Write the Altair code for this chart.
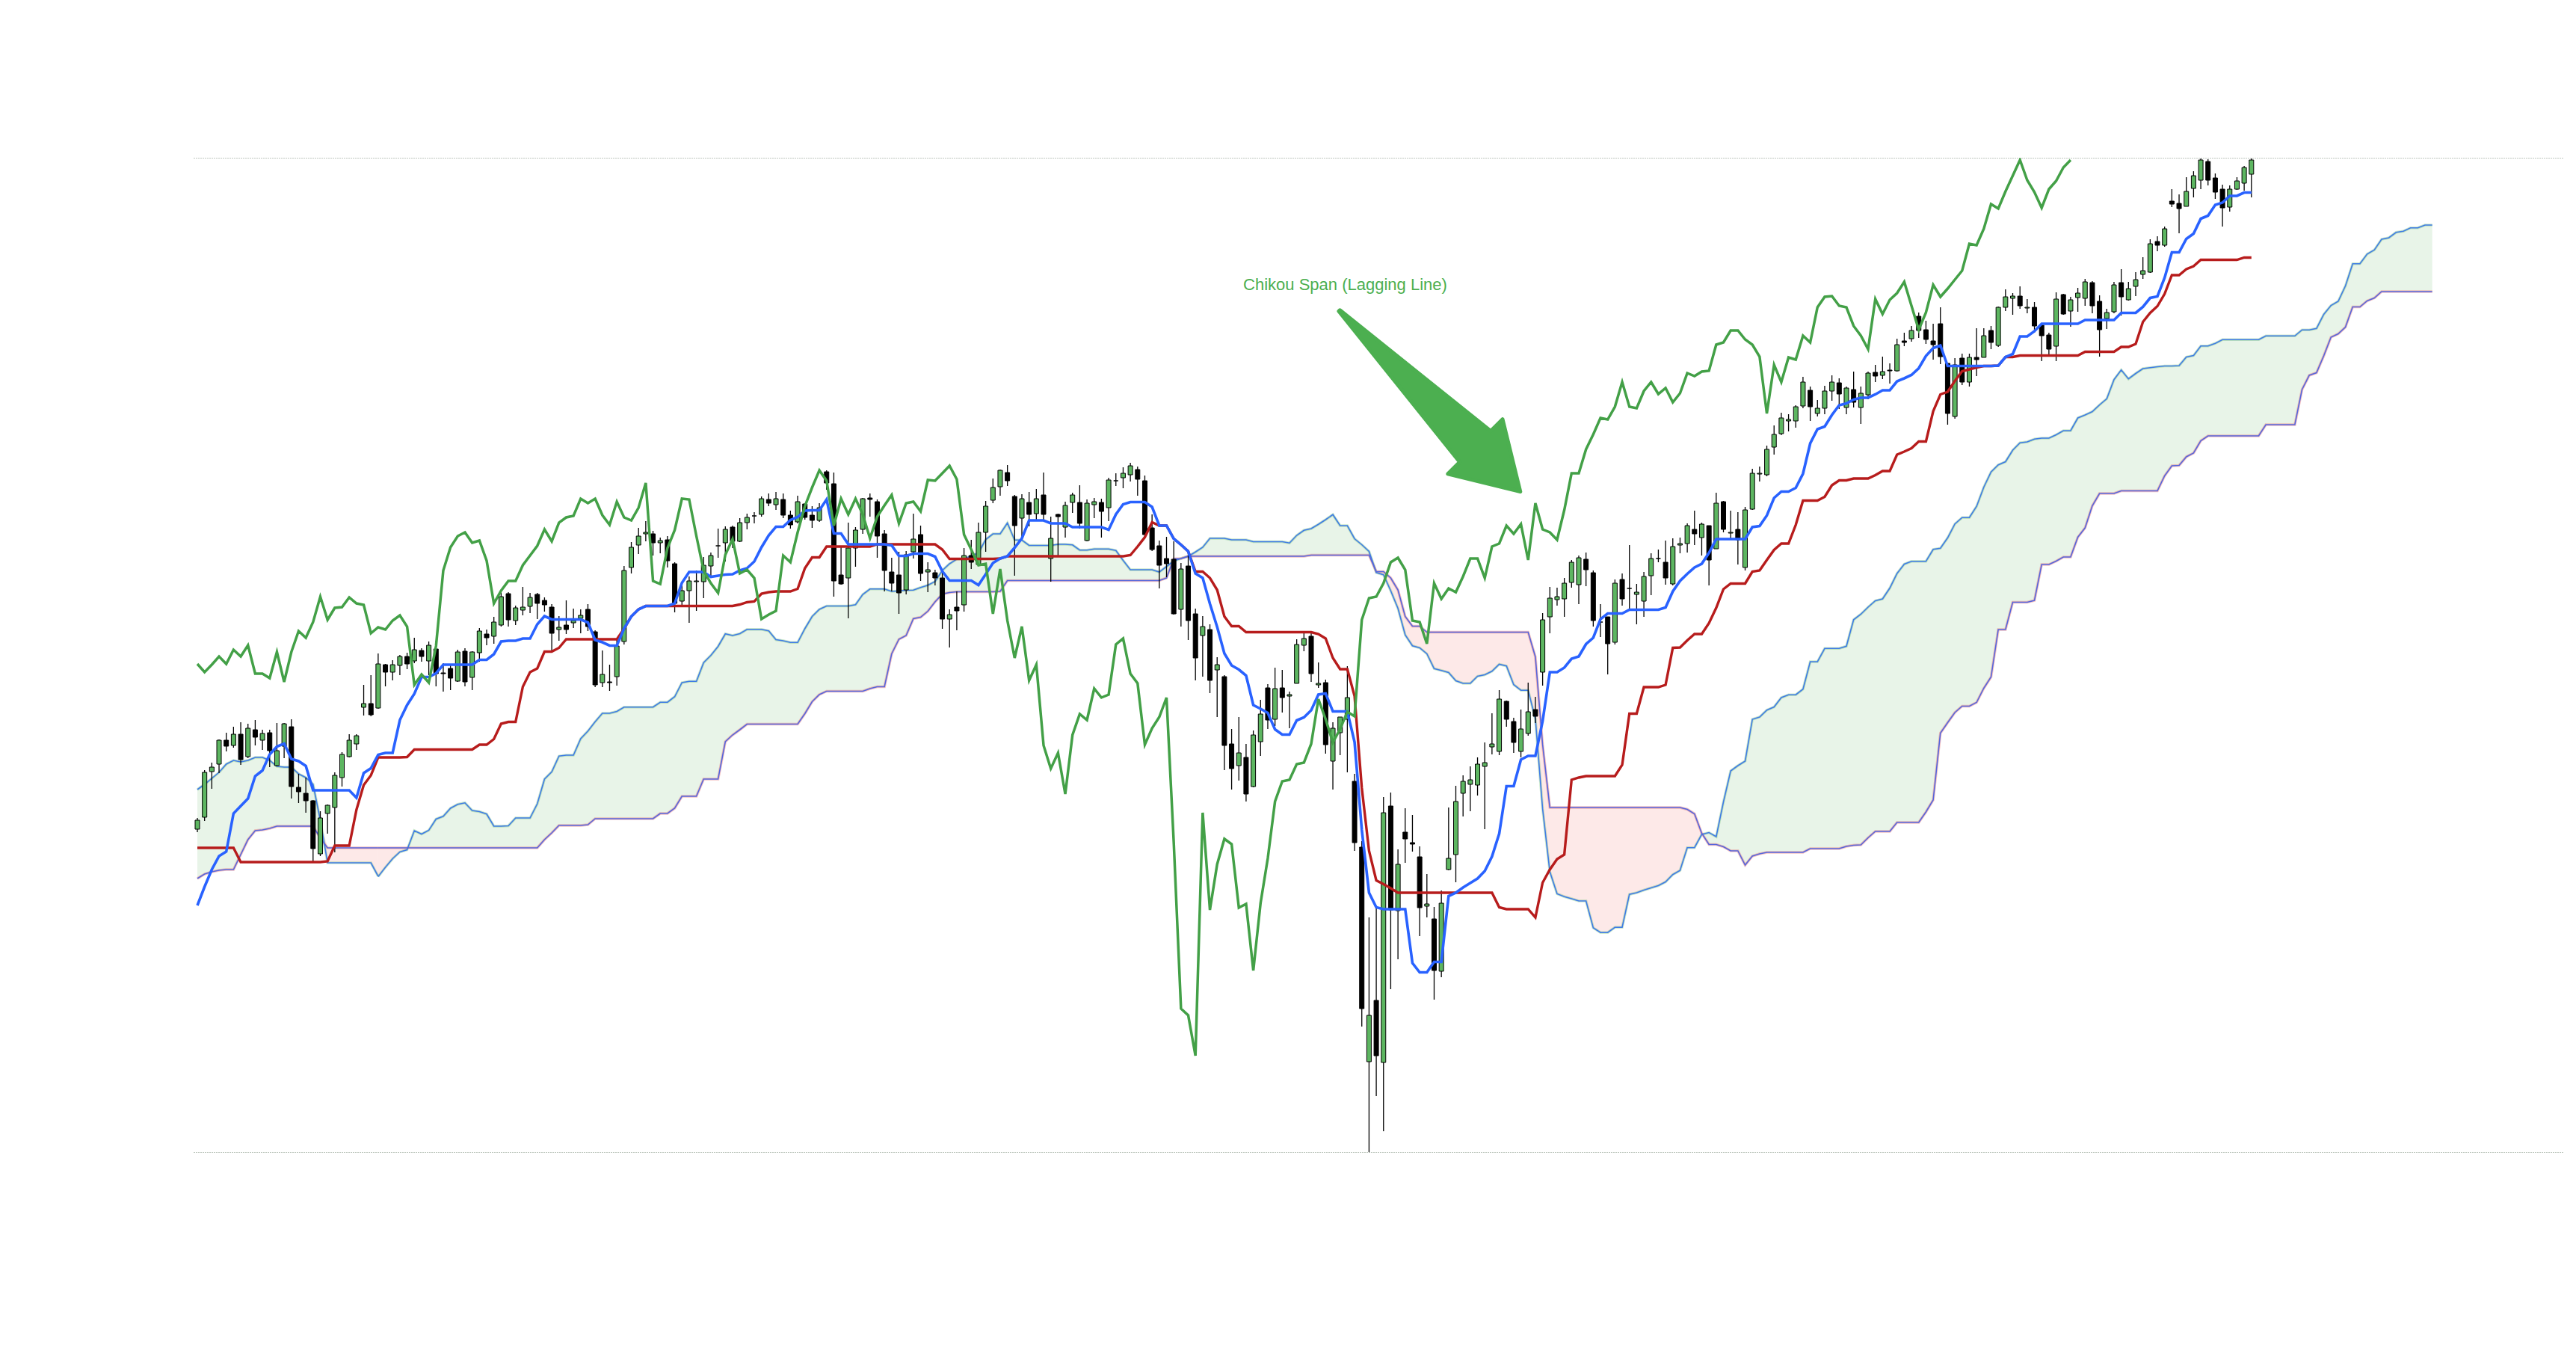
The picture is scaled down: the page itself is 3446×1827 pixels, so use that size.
import altair as alt
import pandas as pd

# ---- candles (price units) ----
OPEN = [432,448,509,519,551,544,559,529,565,551,561,517,543,569,488,480,470,399,453,461,
        501,529,546,595,600,594,652,642,651,663,657,671,657,673,641,647,630,670,635,668,
        693,690,705,747,711,725,730,746,738,729,699,705,708,714,726,696,628,629,636,683,
        782,812,827,827,815,819,787,737,751,763,763,784,811,815,836,817,842,851,853,873,
        866,873,852,843,867,852,845,910,894,772,768,808,833,875,870,827,776,772,752,803,
        826,776,775,768,713,729,732,798,786,829,872,890,909,877,848,869,854,879,794,853,
        836,869,869,818,866,869,862,898,902,906,913,898,835,811,794,793,726,784,720,691,
        699,645,636,546,517,528,489,549,621,579,621,610,627,678,690,625,628,523,561,579,
        496,408,121,203,120,463,323,428,414,395,329,312,242,378,398,480,492,491,516,542,
        536,603,576,536,560,592,642,716,739,740,762,759,793,775,709,716,682,766,754,746,
        737,771,794,789,760,812,814,833,822,838,807,870,828,833,782,860,907,906,943,961,
        978,978,998,1019,988,995,1018,1029,996,1020,996,1013,1043,1039,1046,1045,1085,1088,1118,1100,
        1085,1108,1055,984,1062,1030,1063,1063,1099,1079,1130,1142,1145,1129,1130,1106,1093,1078,1147,1125,
        1143,1142,1163,1138,1115,1124,1163,1140,1158,1174,1177,1218,1213,1272,1269,1265,1289,1300,1325,1303,
        1288,1264,1288,1296,1308]
HIGH = [447,511,521,552,561,569,575,573,578,565,565,574,574,579,506,501,471,456,465,508,
        535,559,559,625,638,667,653,658,665,668,688,674,683,684,654,651,672,674,670,701,
        699,716,750,749,731,756,748,748,742,733,717,738,727,726,733,698,671,652,685,784,
        816,835,844,831,822,824,789,761,770,778,796,802,834,837,838,848,854,856,877,881,
        883,881,858,878,868,864,868,912,909,810,842,836,875,881,873,832,795,803,804,854,
        838,789,779,778,726,750,808,819,842,871,901,913,919,879,880,883,887,909,850,854,
        870,882,892,873,875,874,902,908,916,922,917,905,853,818,823,817,788,806,727,717,
        706,662,638,566,582,546,564,605,626,648,645,616,686,694,694,655,632,575,582,650,
        506,416,314,328,475,481,405,460,451,409,372,328,350,461,490,504,516,528,548,587,
        618,604,581,592,628,609,721,756,755,768,792,798,802,778,733,716,766,774,812,760,
        776,801,806,818,821,822,841,858,842,838,882,871,858,856,863,914,917,945,972,989,
        987,999,1037,1024,1006,1025,1039,1035,1024,1044,1024,1044,1053,1064,1055,1088,1096,1105,1123,1112,
        1108,1130,1055,1062,1068,1068,1102,1102,1105,1131,1154,1149,1158,1141,1137,1109,1096,1150,1148,1144,
        1156,1168,1165,1146,1128,1164,1181,1164,1177,1197,1221,1225,1238,1288,1281,1304,1312,1329,1328,1309,
        1294,1293,1304,1319,1329]
LOW = [428,443,486,507,536,541,518,527,544,538,515,516,527,473,467,454,389,396,426,401,
       489,528,538,584,583,593,623,631,638,646,654,656,638,623,616,618,629,623,618,656,
       678,680,703,703,705,718,721,713,723,669,684,693,701,694,697,622,622,617,624,679,
       774,800,817,798,801,782,722,729,708,724,741,769,795,790,808,816,833,841,850,864,
       859,848,834,841,846,835,843,886,743,759,714,783,827,850,795,750,750,720,746,794,
       764,749,758,700,675,698,723,780,785,803,868,878,891,771,820,837,846,846,763,798,
       822,855,834,817,848,822,844,891,888,897,878,824,804,754,769,719,703,685,631,636,
       614,582,511,485,497,469,488,530,566,570,588,567,627,670,629,621,533,485,531,508,
       403,168,0,75,28,218,258,387,402,289,314,204,234,377,361,449,456,477,432,532,
       531,569,534,528,557,574,624,694,731,716,755,733,757,703,689,639,679,731,727,706,
       716,745,789,759,758,801,802,812,798,758,807,829,819,786,778,859,897,904,933,959,
       964,969,995,978,984,987,1005,994,987,996,974,1007,1030,1034,1028,1044,1078,1084,1089,1081,
       1060,1054,973,981,1026,1024,1038,1063,1074,1077,1125,1120,1128,1122,1096,1058,1064,1058,1120,1104,
       1124,1132,1122,1064,1101,1122,1119,1139,1145,1168,1176,1205,1211,1264,1229,1265,1277,1288,1293,1275,
       1238,1258,1287,1286,1277]
CLOSE = [444,508,515,551,543,559,525,567,555,560,537,537,573,489,482,470,406,447,464,504,
         532,551,557,600,585,653,642,652,663,653,672,663,678,640,640,634,669,629,669,697,
         688,709,743,712,728,729,742,734,732,694,702,699,711,718,703,625,639,628,677,778,
         809,824,829,815,818,791,734,751,764,764,785,798,811,833,817,842,849,851,874,868,
         874,852,839,870,849,845,862,895,764,760,808,832,874,873,824,778,761,748,799,820,
         774,779,768,713,719,724,798,789,829,864,889,912,898,838,874,853,874,853,821,850,
         865,879,841,868,870,857,899,898,908,918,900,826,806,785,787,720,780,711,661,703,
         631,652,544,513,534,479,558,586,578,620,608,612,679,687,640,627,545,567,582,608,
         414,192,183,129,454,324,385,419,412,327,332,243,333,393,469,496,498,519,521,546,
         606,579,548,566,589,583,712,741,743,761,789,795,779,711,709,680,761,740,754,749,
         770,794,794,768,810,814,838,827,840,792,868,833,829,819,859,908,908,940,960,982,
         980,997,1030,997,995,1018,1030,1014,1022,1003,1015,1042,1038,1044,1045,1080,1083,1099,1099,1087,
         1080,1064,988,1053,1030,1063,1060,1092,1083,1130,1144,1145,1132,1130,1105,1092,1074,1141,1121,1140,
         1149,1164,1132,1100,1123,1160,1144,1155,1167,1179,1215,1213,1235,1268,1262,1285,1306,1327,1300,1284,
         1263,1288,1299,1317,1327]

# indicator values at the left edge, where the history behind them is not shown
TENKAN_EARLY = [330,355,378,396,402,453,463,473]
KIJUN_EARLY = [407,407,407,407,407,407,388,388,388,388,388,388,388,388,388,388,388,388,389,410,
               410,410,458,491,504]
SPANB_EARLY = [407]*23 + [418,427,437,437,437,437,438] + [446]*9 + [453,453,460,476,476,476,
               499,499,499,549,558,565]
CLOUD_A_EARLY = [485,492,500,508,519,524,522,524,528,528,524,516,515,515,506,501,492,444,387,387,
                 387,387,387,387,387,369]
CLOUD_B_EARLY = [366,372,375,377,378,378,398,418,430,431,433,436,436,436,436,436,436,420,407,407,
                 407,407,407,407,407,407]

SHIFT = 25
ANNOT_TEXT = "Chikou Span (Lagging Line)"

n = len(CLOSE)
pad = lambda arr: list(arr) + [None] * (n - len(arr))
candles = pd.DataFrame({
    "i": list(range(n)), "open": OPEN, "high": HIGH, "low": LOW, "close": CLOSE,
    "tk_early": pad(TENKAN_EARLY), "kj_early": pad(KIJUN_EARLY), "sb_early": pad(SPANB_EARLY),
})
early_cloud = pd.DataFrame({"j": list(range(len(CLOUD_A_EARLY))), "a": CLOUD_A_EARLY, "b": CLOUD_B_EARLY})
annot = pd.DataFrame({"i": [158.7], "v": [1160], "label": [ANNOT_TEXT]})
arrow = pd.DataFrame({"i": [170.5], "v": [1003.5]})

UP = "#5db661"
CHIKOU = "#43a047"
TENKAN = "#2962ff"
KIJUN = "#b71c1c"
SPAN_LINE = "#3f7be6"
GREEN_FILL = "#e8f4e8"
RED_FILL = "#fde9e8"
NOTE = "#4caf50"

xscale = alt.Scale(domain=[0, 326.5], nice=False, zero=False)
yscale = alt.Scale(domain=[0, 1330], nice=False, zero=False)
yaxis = alt.Axis(title=None, labels=False, ticks=False, domain=False, grid=True,
                 values=[0, 1330], gridDash=[1, 2], gridColor="#7d8f7d", gridWidth=1)


def X(f):
    return alt.X(f, type="quantitative", scale=xscale, axis=None)


def Y(f):
    return alt.Y(f, type="quantitative", scale=yscale, axis=yaxis)


srt = [alt.SortField("i", order="ascending")]
ichi = (alt.Chart(candles)
        .transform_window(hh9="max(high)", ll9="min(low)", frame=[-8, 0], sort=srt)
        .transform_window(hh26="max(high)", ll26="min(low)", frame=[-25, 0], sort=srt)
        .transform_window(hh52="max(high)", ll52="min(low)", frame=[-51, 0], sort=srt)
        .transform_calculate(tenkan="datum.i < 8 ? datum.tk_early : (datum.hh9 + datum.ll9) / 2")
        .transform_calculate(kijun="datum.i < 25 ? datum.kj_early : (datum.hh26 + datum.ll26) / 2")
        .transform_calculate(spanA="(datum.tenkan + datum.kijun) / 2")
        .transform_calculate(spanB="datum.i < 51 ? datum.sb_early : (datum.hh52 + datum.ll52) / 2")
        .transform_calculate(top="max(datum.spanA, datum.spanB)")
        .transform_calculate(xs=f"datum.i + {SHIFT}")
        .transform_calculate(xc=f"datum.i - {SHIFT}"))

early = alt.Chart(early_cloud).transform_calculate(top="max(datum.a, datum.b)")

layers = []
# cloud fills
layers.append(early.mark_area(color=GREEN_FILL, clip=True).encode(x=X("j"), y=Y("top"), y2="b:Q"))
layers.append(early.mark_area(color=RED_FILL, clip=True).encode(x=X("j"), y=Y("top"), y2="a:Q"))
layers.append(ichi.mark_area(color=GREEN_FILL, clip=True).encode(x=X("xs"), y=Y("top"), y2="spanB:Q"))
layers.append(ichi.mark_area(color=RED_FILL, clip=True).encode(x=X("xs"), y=Y("top"), y2="spanA:Q"))
# cloud edge lines (halo + blue core)
for src, xf, af, bf in [(early, "j", "a", "b"), (ichi, "xs", "spanA", "spanB")]:
    layers.append(src.mark_line(color="#66bb6a", strokeWidth=3.5, opacity=0.35, clip=True)
                  .encode(x=X(xf), y=Y(af)))
    layers.append(src.mark_line(color="#e57373", strokeWidth=3.5, opacity=0.45, clip=True)
                  .encode(x=X(xf), y=Y(bf)))
    layers.append(src.mark_line(color=SPAN_LINE, strokeWidth=1.6, clip=True).encode(x=X(xf), y=Y(af)))
    layers.append(src.mark_line(color="#5566dd", strokeWidth=1.6, clip=True).encode(x=X(xf), y=Y(bf)))

# candles
base = alt.Chart(candles)
layers.append(base.mark_rule(color="#000000", strokeWidth=1.3, clip=True)
              .encode(x=X("i"), y=Y("low"), y2="high:Q"))
layers.append(base.mark_bar(size=6, stroke="#000000", strokeWidth=1, clip=True)
              .encode(x=X("i"), y=Y("open"), y2="close:Q",
                      color=alt.condition("datum.close >= datum.open", alt.value(UP), alt.value("#000000"))))

# kijun, tenkan, chikou
layers.append(ichi.mark_line(color=KIJUN, strokeWidth=3.4, clip=True).encode(x=X("i"), y=Y("kijun")))
layers.append(ichi.mark_line(color=TENKAN, strokeWidth=3.6, clip=True).encode(x=X("i"), y=Y("tenkan")))
layers.append(ichi.transform_filter("datum.xc >= 0")
              .mark_line(color=CHIKOU, strokeWidth=3.5, clip=True).encode(x=X("xc"), y=Y("close")))

# annotation
layers.append(alt.Chart(annot).mark_text(color=NOTE, fontSize=22, font="Liberation Sans",
                                          align="center", baseline="middle")
              .encode(x=X("i"), y=Y("v"), text="label:N"))
ARROW_PATH = "M -1 -0.006 L 0.49 -0.17 L 0.49 -0.3 L 0.985 0 L 0.49 0.3 L 0.49 0.17 L -1 0.006 Z"
layers.append(alt.Chart(arrow).mark_point(shape=ARROW_PATH, size=119025, angle=45, filled=True,
                                          fill=NOTE, stroke=NOTE, strokeWidth=5, strokeJoin="round",
                                          opacity=1)
              .encode(x=X("i"), y=Y("v")))

chart = (alt.layer(*layers)
         .properties(width=3169, height=1330,
                     padding={"left": 251, "top": 203, "right": 10, "bottom": 60},
                     background="#ffffff")
         .configure_view(strokeWidth=0))

chart.save("out.html", embed_options={"renderer": "svg", "actions": False})
